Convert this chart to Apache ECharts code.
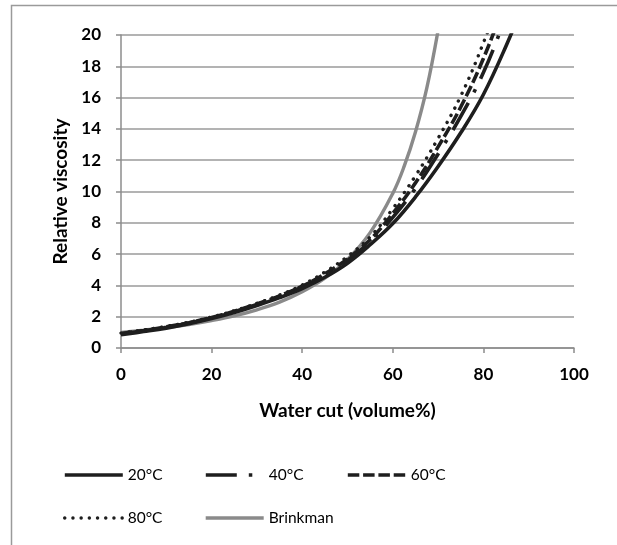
<!DOCTYPE html>
<html>
<head>
<meta charset="utf-8">
<script src="https://cdn.jsdelivr.net/npm/echarts@6/dist/echarts.min.js"></script>
<style>
html,body{margin:0;padding:0;background:#fff;}
#c{width:617px;height:545px;}
</style>
</head>
<body>
<div id="c"></div>
<script>
// Data
const waterCut = [0, 5, 10, 15, 20, 25, 30, 35, 40, 45, 50, 55, 60, 65, 70, 75, 80, 85, 90];
const visc20 = [0.85, 1.05, 1.27, 1.55, 1.88, 2.27, 2.72, 3.22, 3.80, 4.52, 5.42, 6.60, 7.95, 9.65, 11.6, 13.75, 16.2, 19.3, 22.8];
const visc40 = [0.90, 1.10, 1.32, 1.60, 1.92, 2.32, 2.78, 3.29, 3.90, 4.66, 5.60, 6.80, 8.35, 10.2, 12.4, 14.8, 17.6, 21.2, 25.0];
const visc60 = [0.92, 1.12, 1.35, 1.62, 1.95, 2.35, 2.81, 3.33, 3.95, 4.74, 5.70, 6.92, 8.60, 10.55, 12.85, 15.4, 18.5, 22.3, 26.5];
const visc80 = [0.95, 1.15, 1.38, 1.65, 1.98, 2.38, 2.85, 3.38, 4.02, 4.85, 5.85, 7.10, 8.90, 11.0, 13.4, 16.1, 19.5, 23.5, 28.0];
const waterCutBrinkman = [0, 5, 10, 15, 20, 25, 30, 35, 40, 45, 50, 55, 60, 62.5, 65, 67.5, 70];
const viscBrinkman = [1.00, 1.14, 1.30, 1.50, 1.75, 2.05, 2.44, 2.93, 3.59, 4.46, 5.66, 7.37, 9.88, 11.6, 13.8, 16.6, 20.3];
const seriesNames = ['20°C', '40°C', '60°C', '80°C', 'Brinkman'];
const xTicks = {min: 0, max: 100, interval: 20};
const yTicks = {min: 0, max: 20, interval: 2};

const pair = (xs, ys) => xs.map((x, i) => [x, ys[i]]);

const black = '#1e1e1e';
const gray = '#8a8a8a';
const fontFam = 'Lato, "Open Sans", sans-serif';

const styles = [
  {color: black, width: 3.6, type: 'solid', cap: 'butt'},
  {color: black, width: 3.6, type: [31, 12, 3.5, 12], cap: 'butt'},
  {color: black, width: 3.6, type: [11.5, 3.8], cap: 'butt'},
  {color: black, width: 3.4, type: [0.1, 8.1], cap: 'round'},
  {color: gray, width: 3.4, type: 'solid', cap: 'butt'}
];
const dataSets = [
  pair(waterCut, visc20), pair(waterCut, visc40), pair(waterCut, visc60),
  pair(waterCut, visc80), pair(waterCutBrinkman, viscBrinkman)
];

const legendPos = [[63, 467], [204, 467], [346, 467], [63, 510], [204, 510]];
const legends = seriesNames.map((n, i) => ({
  show: true,
  type: 'plain',
  left: legendPos[i][0],
  top: legendPos[i][1],
  orient: 'horizontal',
  itemWidth: 58,
  itemHeight: 16,
  itemGap: 0,
  padding: 0,
  selectedMode: false,
  textStyle: {fontFamily: fontFam, fontSize: 15.5, color: '#000'},
  data: [n],
  itemStyle: {opacity: 0},
  lineStyle: {width: styles[i].width, type: styles[i].type, cap: styles[i].cap, color: styles[i].color}
}));

const chart = echarts.init(document.getElementById('c'), null, {renderer: 'canvas'});
chart.setOption({
  backgroundColor: '#fff',
  animation: false,
  graphic: [{
    type: 'rect', silent: true, z: -1,
    shape: {x: 11.5, y: 5.5, width: 700, height: 700},
    style: {fill: 'none', stroke: '#9a9a9a', lineWidth: 1.5}
  }],
  grid: {left: 121, right: 43, top: 35, bottom: 197, containLabel: false},
  legend: legends,
  xAxis: {
    type: 'value', min: xTicks.min, max: xTicks.max, interval: xTicks.interval,
    name: 'Water cut (volume%)', nameLocation: 'middle', nameGap: 53,
    nameTextStyle: {fontFamily: fontFam, fontSize: 19, fontWeight: 'bold', color: '#000'},
    axisLine: {show: true, lineStyle: {color: '#8c8c8c', width: 1.5}},
    axisTick: {show: true, length: 5, lineStyle: {color: '#8c8c8c', width: 1.5}},
    axisLabel: {fontFamily: fontFam, fontSize: 17, fontWeight: 'bold', color: '#000', margin: 18},
    splitLine: {show: false}
  },
  yAxis: {
    type: 'value', min: yTicks.min, max: yTicks.max, interval: yTicks.interval,
    name: 'Relative viscosity', nameLocation: 'middle', nameGap: 50,
    nameTextStyle: {fontFamily: fontFam, fontSize: 19, fontWeight: 'bold', color: '#000'},
    axisLine: {show: true, lineStyle: {color: '#8c8c8c', width: 1.5}},
    axisTick: {show: true, length: 5, lineStyle: {color: '#8c8c8c', width: 1.5}},
    axisLabel: {fontFamily: fontFam, fontSize: 17, fontWeight: 'bold', color: '#000', margin: 20},
    splitLine: {show: true, lineStyle: {color: '#9a9a9a', width: 1.5}}
  },
  series: seriesNames.map((n, i) => ({
    name: n, type: 'line', data: dataSets[i], smooth: 0.4,
    showSymbol: false, symbol: 'none', clip: true,
    z: i === 4 ? 1 : 2 + (3 - i),
    lineStyle: {color: styles[i].color, width: styles[i].width, type: styles[i].type, cap: styles[i].cap},
    itemStyle: {color: styles[i].color}
  }))
});
</script>
</body>
</html>
